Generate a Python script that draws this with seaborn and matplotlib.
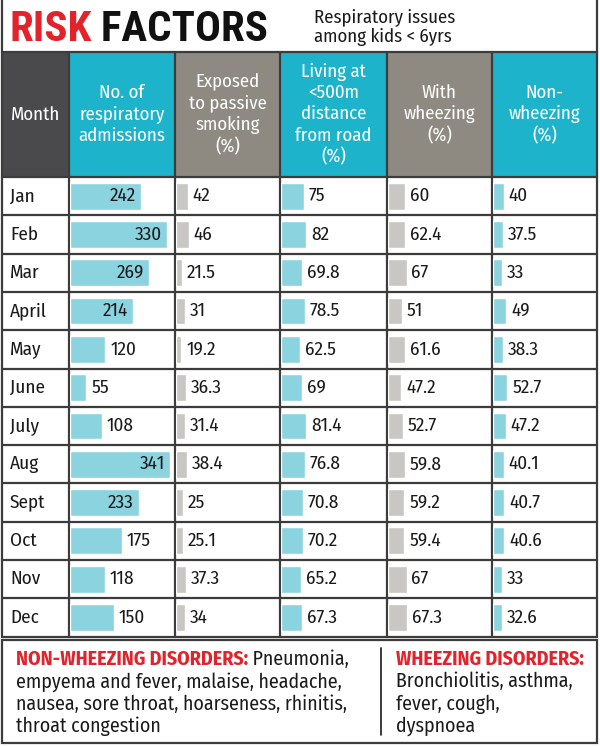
import pandas as pd
import matplotlib
matplotlib.use('Agg')
import matplotlib.pyplot as plt
from matplotlib.patches import Rectangle
import seaborn as sns

months = ['Jan', 'Feb', 'Mar', 'April', 'May', 'June', 'July', 'Aug', 'Sept', 'Oct', 'Nov', 'Dec']
admissions = [242, 330, 269, 214, 120, 55, 108, 341, 233, 175, 118, 150]
passive_smoking = [42, 46, 21.5, 31, 19.2, 36.3, 31.4, 38.4, 25, 25.1, 37.3, 34]
near_road = [75, 82, 69.8, 78.5, 62.5, 69, 81.4, 76.8, 70.8, 70.2, 65.2, 67.3]
with_wheezing = [60, 62.4, 67, 51, 61.6, 47.2, 52.7, 59.8, 59.2, 59.4, 67, 67.3]
non_wheezing = [40, 37.5, 33, 49, 38.3, 52.7, 47.2, 40.1, 40.7, 40.6, 33, 32.6]
value_labels = [
    ['242', '330', '269', '214', '120', '55', '108', '341', '233', '175', '118', '150'],
    ['42', '46', '21.5', '31', '19.2', '36.3', '31.4', '38.4', '25', '25.1', '37.3', '34'],
    ['75', '82', '69.8', '78.5', '62.5', '69', '81.4', '76.8', '70.8', '70.2', '65.2', '67.3'],
    ['60', '62.4', '67', '51', '61.6', '47.2', '52.7', '59.8', '59.2', '59.4', '67', '67.3'],
    ['40', '37.5', '33', '49', '38.3', '52.7', '47.2', '40.1', '40.7', '40.6', '33', '32.6'],
]
headers = ['Month', 'No. of\nrespiratory\nadmissions', 'Exposed\nto passive\nsmoking\n(%)',
           'Living at\n<500m\ndistance\nfrom road\n(%)', 'With\nwheezing\n(%)', 'Non-\nwheezing\n(%)']

sns.set_theme(style='white')
plt.rcParams['font.family'] = ['Fira Sans Condensed', 'DejaVu Sans']
TITLE_FONT = ['Roboto Condensed', 'DejaVu Sans']

W, H = 600, 747
CYAN_HEAD = '#1db4cb'
GRAY_HEAD = '#8e8a82'
DARK_HEAD = '#4a4a4c'
CYAN_BAR = '#8bd3df'
GRAY_BAR = '#c9c7c3'
LINE = '#3c3c3c'
RED = '#e3232b'
TXT = '#1a1a1a'

col_edges = [2, 69, 175, 280, 387, 492, 597]
head_top, head_bot = 52, 177
row_h = 38.3
table_bot = head_bot + 12 * row_h
VAL_FS = 13.8

fig = plt.figure(figsize=(6, 7.47), dpi=100)
bg = fig.add_axes([0, 0, 1, 1])
bg.set_xlim(0, W)
bg.set_ylim(H, 0)
bg.axis('off')

# title
risk = bg.text(9, 50, 'RISK', color=RED, fontsize=31, fontweight='heavy', va='bottom', ha='left',
               family=TITLE_FONT)
bg.annotate(' FACTORS', xy=(1, 0), xycoords=risk, va='bottom', ha='left',
            color='#111111', fontsize=31, fontweight='heavy', family=TITLE_FONT)
bg.text(314, 27, 'Respiratory issues\namong kids < 6yrs', color=TXT, fontsize=13.5,
        va='center', ha='left', linespacing=1.12)

# header cells
head_colors = [DARK_HEAD, CYAN_HEAD, GRAY_HEAD, CYAN_HEAD, GRAY_HEAD, CYAN_HEAD]
for i, c in enumerate(head_colors):
    x0, x1 = col_edges[i], col_edges[i + 1]
    bg.add_patch(Rectangle((x0, head_top), x1 - x0, head_bot - head_top, facecolor=c, edgecolor='none'))
    bg.text((x0 + x1) / 2, (head_top + head_bot) / 2, headers[i], color='white', fontsize=13.5,
            ha='center', va='center', linespacing=1.25)

# grid lines
for x in col_edges:
    bg.plot([x, x], [head_top, table_bot], color=LINE, lw=1.6, zorder=5)
for k in range(13):
    y = head_bot + k * row_h
    bg.plot([col_edges[0], col_edges[-1]], [y, y], color=LINE, lw=1.6, zorder=5)
bg.plot([col_edges[0], col_edges[-1]], [head_top, head_top], color=LINE, lw=1.6, zorder=5)
bg.plot([2, 2], [0, head_top], color=LINE, lw=1.6)
bg.plot([597, 597], [0, head_top], color=LINE, lw=1.6)

# month labels
for k, m in enumerate(months):
    bg.text(10, head_bot + (k + 0.5) * row_h, m, color=TXT, fontsize=VAL_FS, va='center', ha='left')

# bar columns
series = [admissions, passive_smoking, near_road, with_wheezing, non_wheezing]
bar_colors = [CYAN_BAR, GRAY_BAR, CYAN_BAR, GRAY_BAR, CYAN_BAR]
xmaxes = [353, 371, 342, 371, 378]
for i, vals in enumerate(series):
    x0, x1 = col_edges[i + 1] + 1, col_edges[i + 2] - 1
    ax = fig.add_axes([x0 / W, 1 - table_bot / H, (x1 - x0) / W, (table_bot - head_bot) / H])
    ax.patch.set_alpha(0)
    df = pd.DataFrame({'Month': months, 'value': vals})
    sns.barplot(data=df, x='value', y='Month', orient='h', color=bar_colors[i],
                saturation=1, width=0.7, errorbar=None, ax=ax)
    ax.set_xlim(0, xmaxes[i])
    ax.axis('off')
    for k, v in enumerate(vals):
        if i == 0 and v >= 200:
            ax.annotate(value_labels[i][k], xy=(v, k), xytext=(-4, 0), textcoords='offset points',
                        ha='right', va='center', fontsize=VAL_FS, color=TXT)
        else:
            ax.annotate(value_labels[i][k], xy=(v, k), xytext=(3.5, 0), textcoords='offset points',
                        ha='left', va='center', fontsize=VAL_FS, color=TXT)

# footer box
foot_top, foot_bot = 640, 743
bg.add_patch(Rectangle((2, foot_top), 595, foot_bot - foot_top, facecolor='none', edgecolor=LINE, lw=1.6))
bg.plot([381, 381], [648, 735], color=TXT, lw=1.2)

fs = 14.3
step = 22.5
red_l = bg.text(16, 669, 'NON-WHEEZING DISORDERS:', color=RED, fontsize=fs, fontweight='bold',
                va='bottom', ha='left')
bg.annotate(' Pneumonia,', xy=(1, 0), xycoords=red_l, va='bottom', ha='left', color=TXT, fontsize=fs)
left_lines = ['empyema and fever, malaise, headache,', 'nausea, sore throat, hoarseness, rhinitis,',
              'throat congestion']
for j, t in enumerate(left_lines):
    bg.text(16, 669 + (j + 1) * step, t, color=TXT, fontsize=fs, va='bottom', ha='left')

bg.text(396, 669, 'WHEEZING DISORDERS:', color=RED, fontsize=fs, fontweight='bold', va='bottom', ha='left')
right_lines = ['Bronchiolitis, asthma,', 'fever, cough,', 'dyspnoea']
for j, t in enumerate(right_lines):
    bg.text(396, 669 + (j + 1) * step, t, color=TXT, fontsize=fs, va='bottom', ha='left')

fig.savefig('out.png', dpi=100)
